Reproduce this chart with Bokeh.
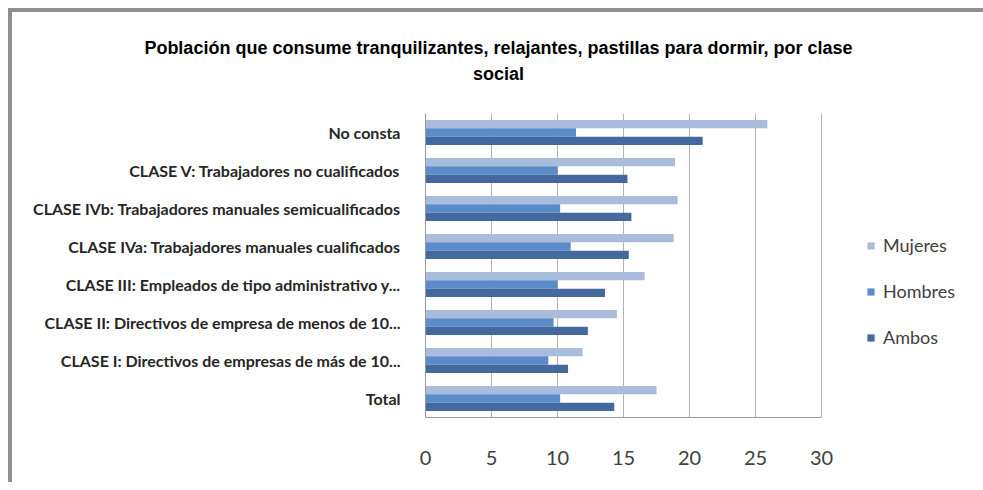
from bokeh.plotting import figure
from bokeh.models import FactorRange, Range1d, Legend, LegendItem, FixedTicker, ColumnDataSource, Div
from bokeh.layouts import column
from bokeh.transform import dodge
from bokeh.embed import file_html
from bokeh.resources import INLINE

categories = [
    "No consta",
    "CLASE V: Trabajadores no cualificados",
    "CLASE IVb: Trabajadores manuales semicualificados",
    "CLASE IVa: Trabajadores manuales cualificados",
    "CLASE III: Empleados de tipo administrativo y...",
    "CLASE II: Directivos de empresa de menos de 10...",
    "CLASE I: Directivos de empresas de más de 10...",
    "Total",
]
mujeres = [25.9, 18.9, 19.1, 18.8, 16.6, 14.5, 11.9, 17.5]
hombres = [11.4, 10.0, 10.2, 11.0, 10.0, 9.7, 9.3, 10.2]
ambos = [21.0, 15.3, 15.6, 15.4, 13.6, 12.3, 10.8, 14.3]
series_names = ["Mujeres", "Hombres", "Ambos"]
x_ticks = [0, 5, 10, 15, 20, 25, 30]
title_lines = ["Población que consume tranquilizantes, relajantes, pastillas para dormir, por clase", "social"]

colors = ["#AABCDB", "#5B8BC9", "#44699E"]
offsets = [0.22, 0.0, -0.22]
axis_max = 30
W = 971
view_max = 30 * (W - 413) / 396  # extra room on the right of the plot frame for the legend

src = ColumnDataSource(dict(cat=categories, Mujeres=mujeres, Hombres=hombres, Ambos=ambos))

title_div = Div(
    text="<br>".join(title_lines), width=W, height=90, margin=(0, 0, 0, 0),
    styles={"text-align": "center", "font-family": "'Liberation Sans Narrow', 'Liberation Sans', sans-serif",
            "font-weight": "bold", "font-size": "18px", "line-height": "26px",
            "padding-top": "23px", "padding-left": "2px", "color": "#000000",
            "box-sizing": "border-box", "overflow": "hidden"},
)

p = figure(
    width=W, height=380,
    y_range=FactorRange(*list(reversed(categories)), range_padding=0),
    x_range=Range1d(0, view_max),
    output_backend="svg", toolbar_location=None,
    min_border_left=413, min_border_right=0, min_border_top=11, min_border_bottom=65,
    margin=(0, 0, 0, 0),
)
p.title.visible = False
p.outline_line_color = None

renderers = []
for name, col, off in zip(series_names, colors, offsets):
    r = p.hbar(y=dodge("cat", off, range=p.y_range), right=name, left=0, height=0.22,
               source=src, fill_color=col, line_color=None)
    renderers.append(r)

p.xaxis.ticker = FixedTicker(ticks=x_ticks)
p.xaxis.bounds = (0, axis_max)
p.xgrid.ticker = FixedTicker(ticks=x_ticks)
p.xgrid.grid_line_color = "#B3B3B3"
p.ygrid.grid_line_color = None
p.xaxis.axis_line_color = "#999999"
p.yaxis.axis_line_color = "#999999"
p.xaxis.major_tick_line_color = None
p.xaxis.minor_tick_line_color = None
p.yaxis.major_tick_line_color = None
p.yaxis.minor_tick_line_color = None
p.xaxis.major_label_standoff = 27
p.xaxis.major_label_text_font = "Lato"
p.xaxis.major_label_text_font_size = "20px"
p.xaxis.major_label_text_color = "#404040"
p.yaxis.major_label_standoff = 19
p.yaxis.major_label_text_font = "Lato"
p.yaxis.major_label_text_font_style = "bold"
p.yaxis.major_label_text_font_size = "16px"
p.yaxis.major_label_text_color = "#262626"

legend = Legend(items=[LegendItem(label=n, renderers=[r]) for n, r in zip(series_names, renderers)],
                location=(441, 69), orientation="vertical")
legend.background_fill_alpha = 0
legend.border_line_color = None
legend.padding = 0
legend.margin = 0
legend.spacing = 24
legend.glyph_width = 9
legend.glyph_height = 9
legend.label_standoff = 8
legend.label_text_font = "Lato"
legend.label_text_font_size = "18px"
legend.label_text_color = "#404040"
p.add_layout(legend, "center")

layout = column(title_div, p, spacing=0)
layout.styles = {"margin-left": "12px", "margin-top": "12px",
                 "box-shadow": "0 -4px 0 0 #8f8f8f, -4px 0 0 0 #8f8f8f, -4px -4px 0 0 #8f8f8f"}

open("out.html", "w").write(file_html(layout, INLINE))
